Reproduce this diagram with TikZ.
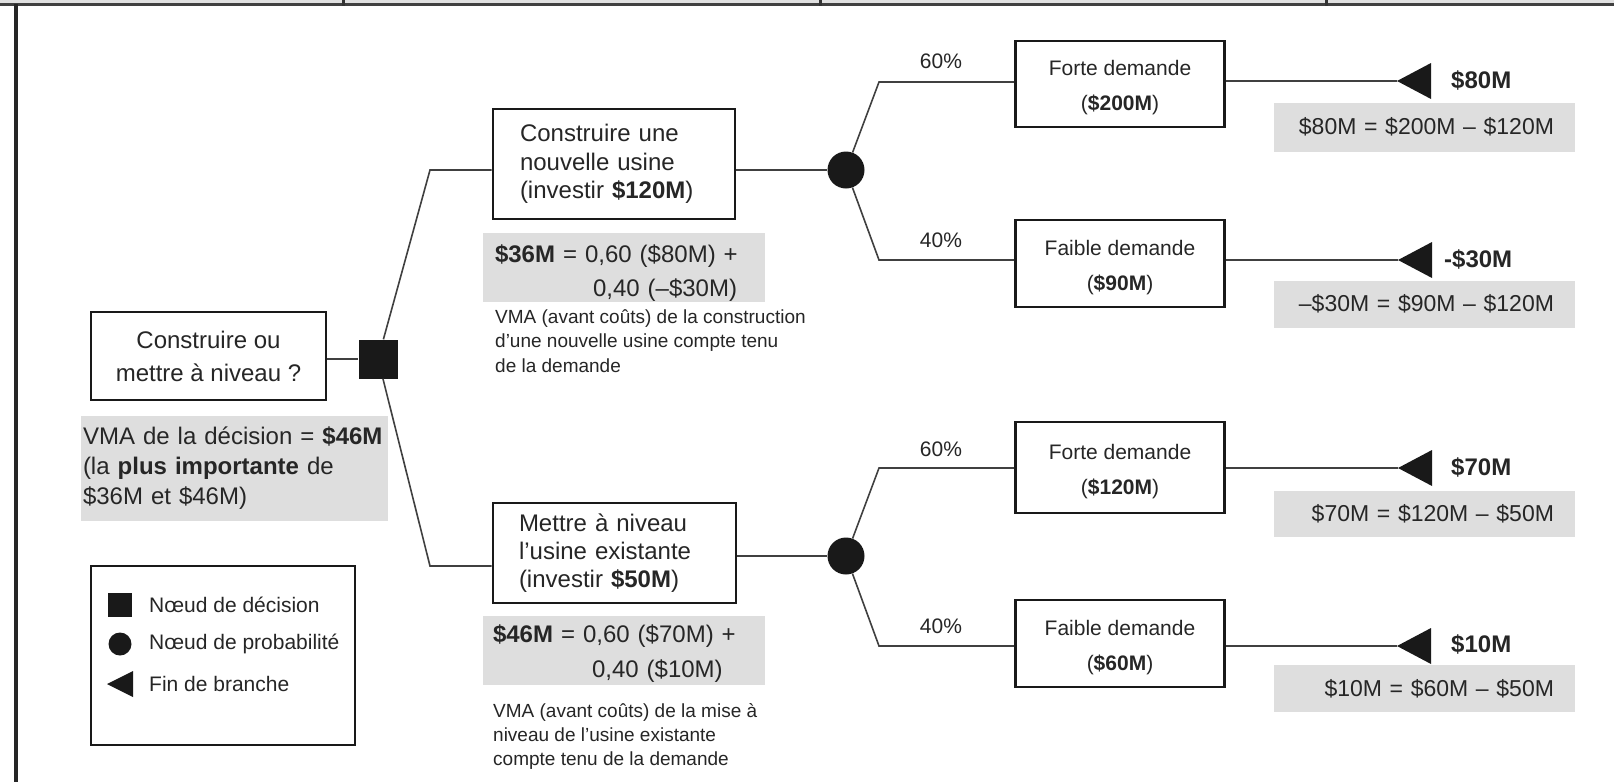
\documentclass[tikz,border=0pt]{standalone}
\usepackage{fontspec}
\setmainfont{Liberation Sans}
\tikzset{
  box/.style={draw=black!90, line width=2.6pt, fill=white, inner sep=0pt, text=black!85},
  valbox/.style={fill=black!13, inner sep=0pt, text=black!85},
  link/.style={draw=black!75, line width=1.6pt},
  dot/.style={circle, fill=black!90, inner sep=0pt},
  sq/.style={fill=black!90, inner sep=0pt},
  plain/.style={inner sep=0pt, text=black!85},
  frame/.style={line width=3pt, black!80},
  outbox/.style={box, minimum width=209, align=center, font=\fontsize{21}{35}\selectfont},
  formula/.style={valbox, minimum width=301, text width=259, inner xsep=21, align=right, font=\fontsize{23}{27}\selectfont},
  endval/.style={plain, anchor=west, font=\fontsize{24}{29}\selectfont\bfseries},
  prob/.style={plain, font=\fontsize{21}{25}\selectfont},
}
\newcommand{\upline}[1]{\rule{0pt}{#1pt}}
\begin{document}
\begin{tikzpicture}[x=1pt,y=-1pt]
\fill[white] (0,0) rectangle (1614,782);
\useasboundingbox (0,0) rectangle (1614,782);
% top band and left rule
\fill[black!12] (0,0) rectangle (1614,3.5);
\draw[line width=2.5pt, black!75] (0,4.5) -- (1614,4.5);
\draw[frame] (343,0) -- (343,6);
\draw[frame] (820,0) -- (820,6);
\draw[frame] (1326,0) -- (1326,6);
\draw[line width=3.5pt, black!85] (16,4) -- (16,782);

% root
\node[box, minimum width=235, minimum height=88, align=center, font=\fontsize{24}{33}\selectfont] (root) at (208.5,356) {Construire ou\\mettre à niveau ?};
\node[valbox, minimum width=307, minimum height=105, text width=303, align=left, font=\fontsize{24}{30}\selectfont] (vroot) at (234.5,468) {VMA de la décision = \textbf{\$46M}\\(la \textbf{plus importante} de\\\$36M et \$46M)};
\node[sq, minimum size=39] (dec) at (378,359) {};

% decision alternatives
\node[box, minimum width=242, minimum height=110, text width=188, inner xsep=27, align=left, font=\fontsize{24}{28.5}\selectfont] (new) at (614,164) {Construire une\\nouvelle usine\\(investir \textbf{\$120M})};
\node[valbox, minimum width=282, minimum height=69, text width=258, inner xsep=12, align=left, font=\fontsize{24}{34}\selectfont] (vnew) at (624,267) {\upline{30}\textbf{\$36M} = 0,60 (\$80M) +\\\hspace*{98pt}0,40 (–\$30M)};
\node[plain, anchor=north west, align=left, font=\fontsize{19}{24.5}\selectfont] (cnew) at (495,309) {VMA (avant coûts) de la construction\\d’une nouvelle usine compte tenu\\de la demande};

\node[box, minimum width=243, minimum height=100, text width=191, inner xsep=26, align=left, font=\fontsize{24}{28}\selectfont] (upg) at (614.5,553) {Mettre à niveau\\l’usine existante\\(investir \textbf{\$50M})};
\node[valbox, minimum width=282, minimum height=69, text width=262, inner xsep=10, align=left, font=\fontsize{24}{35}\selectfont] (vupg) at (624,650) {\upline{24}\textbf{\$46M} = 0,60 (\$70M) +\\\hspace*{99pt}0,40 (\$10M)};
\node[plain, anchor=north west, align=left, font=\fontsize{19}{24}\selectfont] (cupg) at (493,703) {VMA (avant coûts) de la mise à\\niveau de l’usine existante\\compte tenu de la demande};

% chance nodes
\node[dot, minimum size=37] (ch1) at (846,170) {};
\node[dot, minimum size=37] (ch2) at (846,556) {};

% probabilities
\node[prob] (p1) at (941,61) {60\%};
\node[prob] (p2) at (941,240) {40\%};
\node[prob] (p3) at (941,449) {60\%};
\node[prob] (p4) at (941,626) {40\%};

% outcomes
\node[outbox, minimum height=86] (o1) at (1120,84) {\upline{22.4}Forte demande\\(\textbf{\$200M})};
\node[outbox, minimum height=87] (o2) at (1120,263.5) {\upline{22.4}Faible demande\\(\textbf{\$90M})};
\node[outbox, minimum height=91] (o3) at (1120,467.5) {\upline{22.4}Forte demande\\(\textbf{\$120M})};
\node[outbox, minimum height=87] (o4) at (1120,643.5) {\upline{22.4}Faible demande\\(\textbf{\$60M})};

% end-of-branch triangles
\coordinate (t1) at (1397,81);
\coordinate (t2) at (1398,260);
\coordinate (t3) at (1398,468);
\coordinate (t4) at (1397,646);
\foreach \t in {t1,t2,t3,t4}{\fill[black!90] (\t) -- ++(34,-18) -- ++(0,36) -- cycle;}

% values
\node[endval] (v1) at (1451,80) {\$80M};
\node[endval] (v2) at (1444,259) {-\$30M};
\node[endval] (v3) at (1451,467) {\$70M};
\node[endval] (v4) at (1451,644) {\$10M};

\node[formula, minimum height=49] (f1) at (1424.5,127) {\$80M = \$200M – \$120M};
\node[formula, minimum height=47] (f2) at (1424.5,304) {–\$30M = \$90M – \$120M};
\node[formula, minimum height=46] (f3) at (1424.5,514) {\$70M = \$120M – \$50M};
\node[formula, minimum height=47] (f4) at (1424.5,688.5) {\$10M = \$60M – \$50M};

% legend
\node[box, minimum width=264, minimum height=179] (leg) at (223,655.5) {};
\node[sq, minimum size=24] (lsq) at (120,605) {};
\node[dot, minimum size=23] (lci) at (120,644) {};
\coordinate (ltr) at (107,684);
\fill[black!90] (ltr) -- ++(26,-13) -- ++(0,26) -- cycle;
\node[plain, anchor=west, font=\fontsize{21}{25}\selectfont] (l1) at (149,605) {Nœud de décision};
\node[plain, anchor=west, font=\fontsize{21}{25}\selectfont] (l2) at (149,644) {Nœud de probabilité};
\node[plain, anchor=west, font=\fontsize{21}{25}\selectfont] (l3) at (149,684) {Fin de branche};

% connectors
\coordinate (du) at (430,170);
\coordinate (dd) at (430,566);
\coordinate (c1u) at (879,82);
\coordinate (c1d) at (879,260);
\coordinate (c2u) at (879,468);
\coordinate (c2d) at (879,646);
\draw[link] (root.east |- dec) -- (dec);
\draw[link] (dec) -- (du) -- (new.west |- du);
\draw[link] (dec) -- (dd) -- (upg.west |- dd);
\draw[link] (new.east |- ch1) -- (ch1);
\draw[link] (upg.east |- ch2) -- (ch2);
\draw[link] (ch1) -- (c1u) -- (o1.west |- c1u);
\draw[link] (ch1) -- (c1d) -- (o2.west |- c1d);
\draw[link] (ch2) -- (c2u) -- (o3.west |- c2u);
\draw[link] (ch2) -- (c2d) -- (o4.west |- c2d);
\draw[link] (o1.east |- t1) -- (t1);
\draw[link] (o2.east |- t2) -- (t2);
\draw[link] (o3.east |- t3) -- (t3);
\draw[link] (o4.east |- t4) -- (t4);
\end{tikzpicture}
\end{document}
